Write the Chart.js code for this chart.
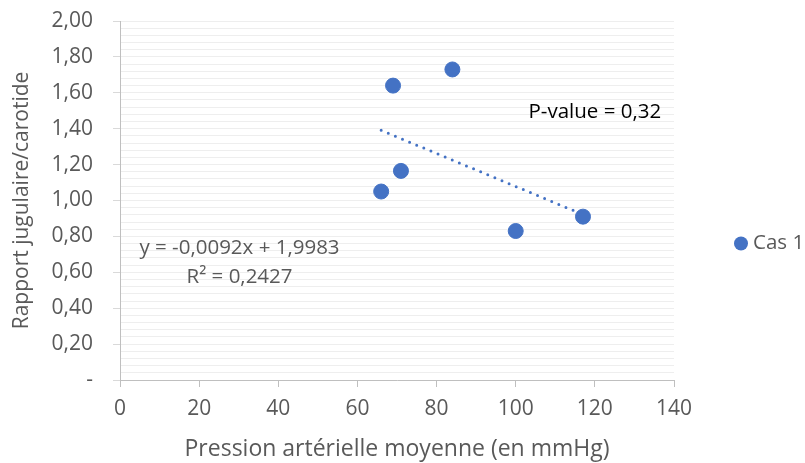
<!DOCTYPE html>
<html>
<head>
<meta charset="utf-8">
<script src="https://cdn.jsdelivr.net/npm/chart.js@4/dist/chart.umd.min.js"></script>
<style>
  body { margin: 0; background: #fff; }
  #wrap { width: 805px; height: 463px; }
</style>
</head>
<body>
<div id="wrap"><canvas id="myChart" width="805" height="463"></canvas></div>
<script>
// points
const pamValues = [69, 84, 71, 66, 117, 100];
const ratioValues = [1.64, 1.73, 1.165, 1.05, 0.91, 0.83];
// linear trendline ends (66 -> 117)
const trendX = [66, 117];
const trendY = [1.391, 0.922];
const seriesName = 'Cas 1';
const xTickValues = [0, 20, 40, 60, 80, 100, 120, 140];
const yTickValues = [0, 0.2, 0.4, 0.6, 0.8, 1.0, 1.2, 1.4, 1.6, 1.8, 2.0];

const blue = '#4472C4';
const grey = '#595959';
const fontFamily = '"Open Sans", Lato, sans-serif';

const ctx = document.getElementById('myChart').getContext('2d');

const annotations = {
    id: 'annotations',
    afterDraw(chart) {
        const { ctx, chartArea, scales } = chart;
        const x = scales.x, y = scales.y;
        ctx.save();
        ctx.textBaseline = 'middle';
        ctx.font = '20.5px ' + fontFamily;

        ctx.fillStyle = '#000';
        ctx.textAlign = 'center';
        ctx.fillText('P-value = 0,32', x.getPixelForValue(120), y.getPixelForValue(1.493));

        ctx.fillStyle = grey;
        ctx.fillText('y = -0,0092x + 1,9983', x.getPixelForValue(30.2), y.getPixelForValue(0.735));
        ctx.fillText('R² = 0,2427', x.getPixelForValue(30.2), y.getPixelForValue(0.574));

        // legend
        const ly = (chartArea.top + chartArea.bottom) / 2 + 43;
        const lx = chartArea.right + 67;
        ctx.fillStyle = blue;
        ctx.beginPath();
        ctx.arc(lx, ly, 7, 0, Math.PI * 2);
        ctx.fill();
        ctx.fillStyle = grey;
        ctx.textAlign = 'left';
        ctx.fillText(seriesName, lx + 12, ly);
        ctx.restore();
    }
};

const config = {
    type: 'scatter',
    data: {
        datasets: [{
            label: seriesName,
            data: pamValues.map((v, i) => ({ x: v, y: ratioValues[i] })),
            backgroundColor: blue,
            borderColor: blue,
            pointRadius: 7.5,
            pointHoverRadius: 7.5
        }, {
            label: 'Tendance',
            data: trendX.map((v, i) => ({ x: v, y: trendY[i] })),
            showLine: true,
            borderColor: blue,
            borderWidth: 3,
            borderDash: [0, 7.7],
            borderCapStyle: 'round',
            pointRadius: 0
        }]
    },
    options: {
        responsive: false,
        animation: false,
        events: [],
        layout: { padding: { left: 9, top: 21, right: 131, bottom: 0 } },
        scales: {
            x: {
                type: 'linear',
                min: 0,
                max: 140,
                afterBuildTicks: (scale) => { scale.ticks = xTickValues.map(v => ({ value: v })); },
                afterFit: (scale) => { scale.height = 83; },
                grid: { drawOnChartArea: false, color: '#BFBFBF', tickLength: 7 },
                border: { color: '#BFBFBF' },
                ticks: { color: grey, font: { family: fontFamily, size: 21 }, padding: 9 },
                title: {
                    display: true,
                    text: 'Pression artérielle moyenne (en mmHg)',
                    color: grey,
                    font: { family: fontFamily, size: 23 },
                    padding: { top: 4, bottom: 0 }
                }
            },
            y: {
                min: 0,
                max: 2,
                z: 1,
                afterBuildTicks: (scale) => { scale.ticks = yTickValues.map(v => ({ value: v })); },
                afterFit: (scale) => {
                    scale.width = 111;
                    scale.paddingTop = 0;
                    scale.paddingBottom = 0;
                },
                grid: { color: '#D9D9D9', tickLength: 7 },
                border: { color: '#BFBFBF' },
                ticks: {
                    color: grey,
                    font: { family: fontFamily, size: 21 },
                    padding: 20,
                    callback: (v) => v === 0 ? '-' : v.toFixed(2).replace('.', ',')
                },
                title: {
                    display: true,
                    text: 'Rapport jugulaire/carotide',
                    color: grey,
                    font: { family: fontFamily, size: 21 },
                    padding: 0
                }
            },
            yMinor: {
                type: 'linear',
                position: 'left',
                min: 0,
                max: 2,
                z: -1,
                afterFit: (scale) => { scale.width = 0; },
                grid: { color: '#EEEEEE', drawTicks: false },
                border: { display: false },
                ticks: { display: false, stepSize: 0.04 }
            }
        },
        plugins: {
            legend: { display: false },
            tooltip: { enabled: false }
        }
    },
    plugins: [annotations]
};

let myChart = new Chart(ctx, config);
</script>
</body>
</html>
